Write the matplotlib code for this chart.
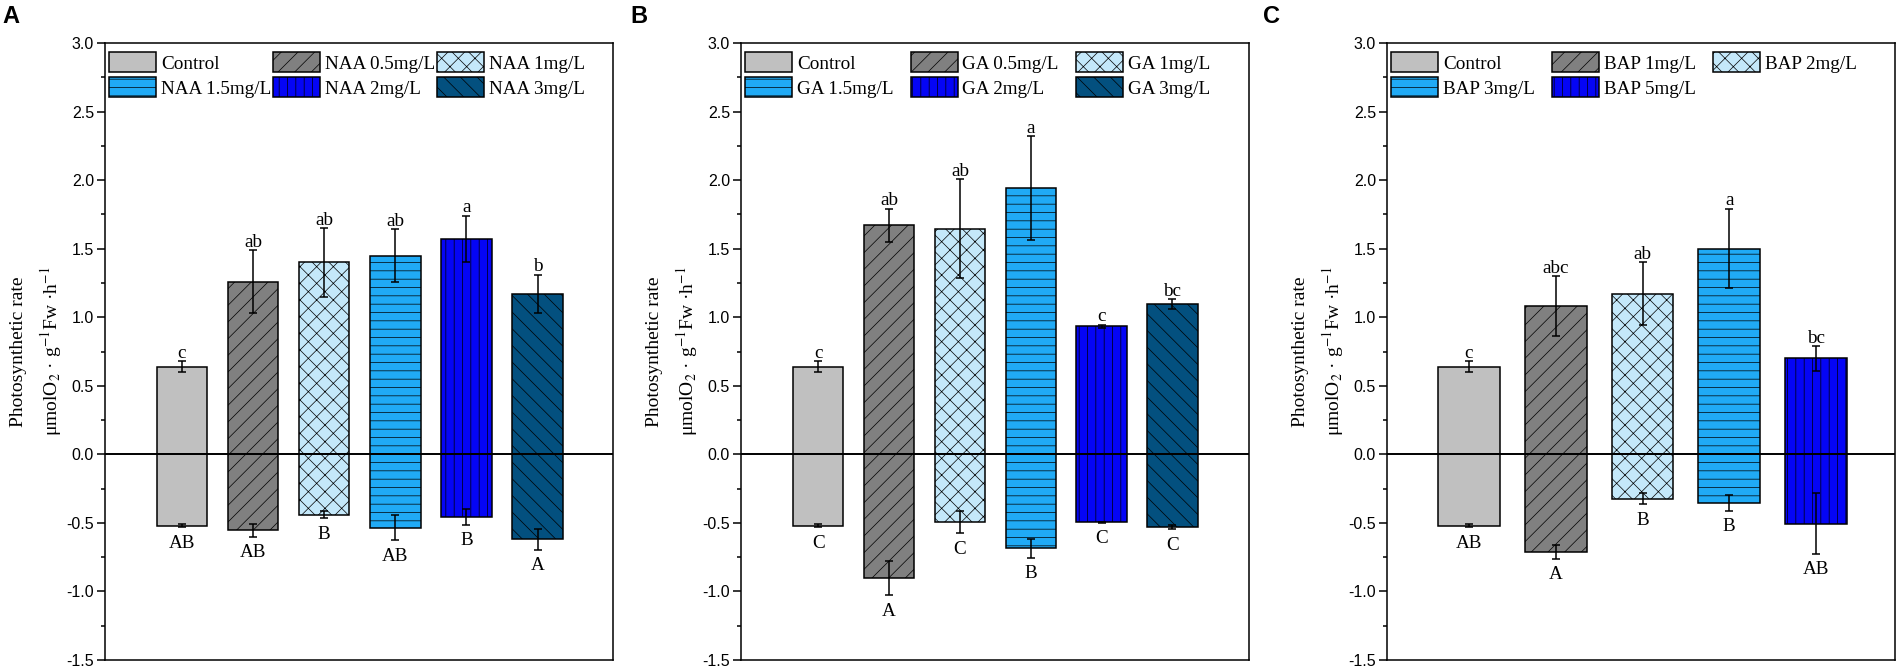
import numpy as np
import matplotlib
matplotlib.use("Agg")
import matplotlib.pyplot as plt
from matplotlib.ticker import MultipleLocator

plt.rcParams['font.family'] = ['Liberation Serif', 'DejaVu Serif']
plt.rcParams['mathtext.fontset'] = 'stix'
plt.rcParams['axes.unicode_minus'] = False
plt.rcParams['hatch.linewidth'] = 0.5

# ---- data ----
naa_labels = ['Control', 'NAA 0.5mg/L', 'NAA 1mg/L', 'NAA 1.5mg/L', 'NAA 2mg/L', 'NAA 3mg/L']
naa_pos = [0.64, 1.26, 1.40, 1.45, 1.57, 1.17]
naa_pos_err = [0.04, 0.23, 0.25, 0.19, 0.17, 0.14]
naa_pos_let = ['c', 'ab', 'ab', 'ab', 'a', 'b']
naa_neg = [-0.52, -0.555, -0.44, -0.535, -0.455, -0.62]
naa_neg_err = [0.01, 0.045, 0.027, 0.093, 0.058, 0.075]
naa_neg_let = ['AB', 'AB', 'B', 'AB', 'B', 'A']

ga_labels = ['Control', 'GA 0.5mg/L', 'GA 1mg/L', 'GA 1.5mg/L', 'GA 2mg/L', 'GA 3mg/L']
ga_pos = [0.64, 1.67, 1.645, 1.94, 0.935, 1.095]
ga_pos_err = [0.04, 0.12, 0.36, 0.38, 0.01, 0.035]
ga_pos_let = ['c', 'ab', 'ab', 'a', 'c', 'bc']
ga_neg = [-0.52, -0.905, -0.495, -0.685, -0.495, -0.53]
ga_neg_err = [0.012, 0.124, 0.08, 0.07, 0.005, 0.015]
ga_neg_let = ['C', 'A', 'C', 'B', 'C', 'C']

bap_labels = ['Control', 'BAP 1mg/L', 'BAP 2mg/L', 'BAP 3mg/L', 'BAP 5mg/L']
bap_pos = [0.64, 1.08, 1.17, 1.50, 0.70]
bap_pos_err = [0.04, 0.22, 0.23, 0.29, 0.09]
bap_pos_let = ['c', 'abc', 'ab', 'a', 'bc']
bap_neg = [-0.52, -0.71, -0.325, -0.355, -0.505]
bap_neg_err = [0.01, 0.05, 0.04, 0.055, 0.22]
bap_neg_let = ['AB', 'A', 'B', 'B', 'AB']

colors = ['#c0c0c0', '#808080', '#c4e8fa', '#20aaf5', '#0505f5', '#03507f']
hatches = ['', '//', 'xx', '--', '||', '\\\\']

panels = [
    ('A', naa_labels, naa_pos, naa_pos_err, naa_pos_let, naa_neg, naa_neg_err, naa_neg_let),
    ('B', ga_labels, ga_pos, ga_pos_err, ga_pos_let, ga_neg, ga_neg_err, ga_neg_let),
    ('C', bap_labels, bap_pos, bap_pos_err, bap_pos_let, bap_neg, bap_neg_err, bap_neg_let),
]

W, H = 1898, 666
fig = plt.figure(figsize=(W / 100, H / 100), dpi=100)

ax_left_px = [105, 741, 1387]
letter_px = [2, 630, 1263]
xlims = [(-0.08, 7.06), (-0.09, 7.08), (0.055, 5.91)]
colspace = [0.1, 0.9, 0.9]

for i, (tag, labels, pos, pos_err, pos_let, neg, neg_err, neg_let) in enumerate(panels):
    ax = fig.add_axes([ax_left_px[i] / W, 6 / H, 508 / W, 617 / H])
    n = len(labels)
    x = np.arange(1, n + 1)
    handles = []
    for j in range(n):
        b = ax.bar(x[j], pos[j], width=0.71, color=colors[j], hatch=hatches[j],
                   edgecolor='black', linewidth=1.1, label=labels[j], zorder=2)
        ax.bar(x[j], neg[j], width=0.71, color=colors[j], hatch=hatches[j],
               edgecolor='black', linewidth=1.1, zorder=2)
        handles.append(b)
    ax.errorbar(x, pos, yerr=pos_err, fmt='none', ecolor='black', elinewidth=1.1,
                capsize=3, capthick=1.1, zorder=3)
    ax.errorbar(x, neg, yerr=neg_err, fmt='none', ecolor='black', elinewidth=1.1,
                capsize=3, capthick=1.1, zorder=3)
    for j in range(n):
        ax.text(x[j], pos[j] + pos_err[j] + 0.025, pos_let[j], ha='center',
                va='baseline', fontsize=13.8)
        ax.text(x[j], neg[j] - neg_err[j] - 0.15, neg_let[j], ha='center',
                va='baseline', fontsize=13.8)
    ax.axhline(0, color='black', linewidth=1.4, zorder=4)

    ax.set_xlim(*xlims[i])
    ax.set_ylim(-1.5, 3.0)
    ax.set_xticks([])
    ax.yaxis.set_major_locator(MultipleLocator(0.5))
    ax.yaxis.set_minor_locator(MultipleLocator(0.25))
    ax.tick_params(axis='y', which='major', direction='out', length=6, width=1.1,
                   pad=2, labelsize=11.5)
    ax.tick_params(axis='y', which='minor', direction='out', length=3, width=1.1)
    for lab in ax.get_yticklabels():
        lab.set_fontfamily(['Liberation Sans', 'DejaVu Sans'])
    for sp in ax.spines.values():
        sp.set_linewidth(1.1)

    # row-wise legend order for 3 columns
    order = [0, 3, 1, 4, 2, 5] if n == 6 else [0, 3, 1, 4, 2]
    ax.legend([handles[k] for k in order], [labels[k] for k in order], ncol=3,
              loc='upper left', bbox_to_anchor=(0.008, 0.985), frameon=False,
              fontsize=13.8, borderaxespad=0, borderpad=0, handlelength=2.45,
              handleheight=1.2, handletextpad=0.25, columnspacing=colspace[i],
              labelspacing=0.25)

    ax.text(-0.171, 0.5, 'Photosynthetic rate', transform=ax.transAxes,
            rotation=90, ha='center', va='center', fontsize=14)
    ax.text(-0.106, 0.5, r'μmolO$_2$ · g$^{-1}$Fw ·h$^{-1}$', transform=ax.transAxes,
            rotation=90, ha='center', va='center', fontsize=14)

    fig.text(letter_px[i] / W, 1 - 5 / H, tag, ha='left', va='top', fontsize=17,
             fontweight='bold', family=['Liberation Sans', 'DejaVu Sans'])

fig.savefig('out.png', dpi=100)
